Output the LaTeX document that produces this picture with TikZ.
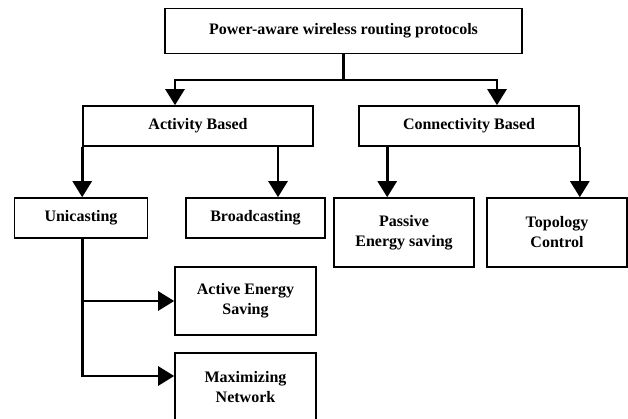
\documentclass[tikz,border=0pt]{standalone}
\usepackage{fontspec}
\setmainfont{Liberation Serif}
\usepackage{xcolor}
\usetikzlibrary{arrows.meta}

\begin{document}
\begin{tikzpicture}[x=1pt, y=-1pt,
		font=\fontsize{16}{20}\selectfont\bfseries,
		box/.style={draw, line width=1.6pt, align=center, inner sep=0pt},
		arr/.style={line width=2.6pt, -{Triangle[width=19pt,length=16pt]}},
		stem/.style={line width=2.6pt}]
		\useasboundingbox (0,0) rectangle (628,419);
		\clip (0,0) rectangle (628,419);
		% levels
		\node[box, minimum width=357pt, minimum height=45pt] (proto) at (343.5,31) {Power-aware wireless routing protocols};
		\node[box, minimum width=230pt, minimum height=40pt] (act) at (198,126) {Activity Based};
		\node[box, minimum width=220pt, minimum height=40pt] (conn) at (469,126) {Connectivity Based};
		\node[box, minimum width=133pt, minimum height=40pt] (uni) at (81,218) {Unicasting};
		\node[box, minimum width=139pt, minimum height=40pt] (broad) at (255.5,218) {Broadcasting};
		\node[box, minimum width=140pt, minimum height=69pt] (passive) at (404,232.5) {Passive\\Energy saving};
		\node[box, minimum width=140pt, minimum height=69pt] (topo) at (557,232.5) {Topology\\Control};
		\node[box, minimum width=141pt, minimum height=68pt] (active) at (245.5,301) {Active Energy\\Saving};
		\node[box, minimum width=141pt, minimum height=68pt] (maxnet) at (245.5,387) {Maximizing\\Network};
		% connectors
		\coordinate (split) at (proto.south |- 0,80);
		\draw[stem] (proto.south) -- (split);
		\draw[arr] (split) -| ([xshift=-23pt]act.north);
		\draw[arr] (split) -| ([xshift=28pt]conn.north);
		\draw[arr] (act.south west) -- (act.south west |- uni.north);
		\draw[arr] ([xshift=80pt]act.south) -- ([xshift=80pt]act.south |- broad.north);
		\draw[arr] ([xshift=29pt]conn.south west) -- ([xshift=29pt]conn.south west |- passive.north);
		\draw[arr] (conn.south east) -- (conn.south east |- topo.north);
		\draw[arr] (act.south west |- uni.south) |- (active.west);
		\draw[arr] (act.south west |- uni.south) |- ([yshift=11pt]maxnet.west);
	\end{tikzpicture}
\end{document}
